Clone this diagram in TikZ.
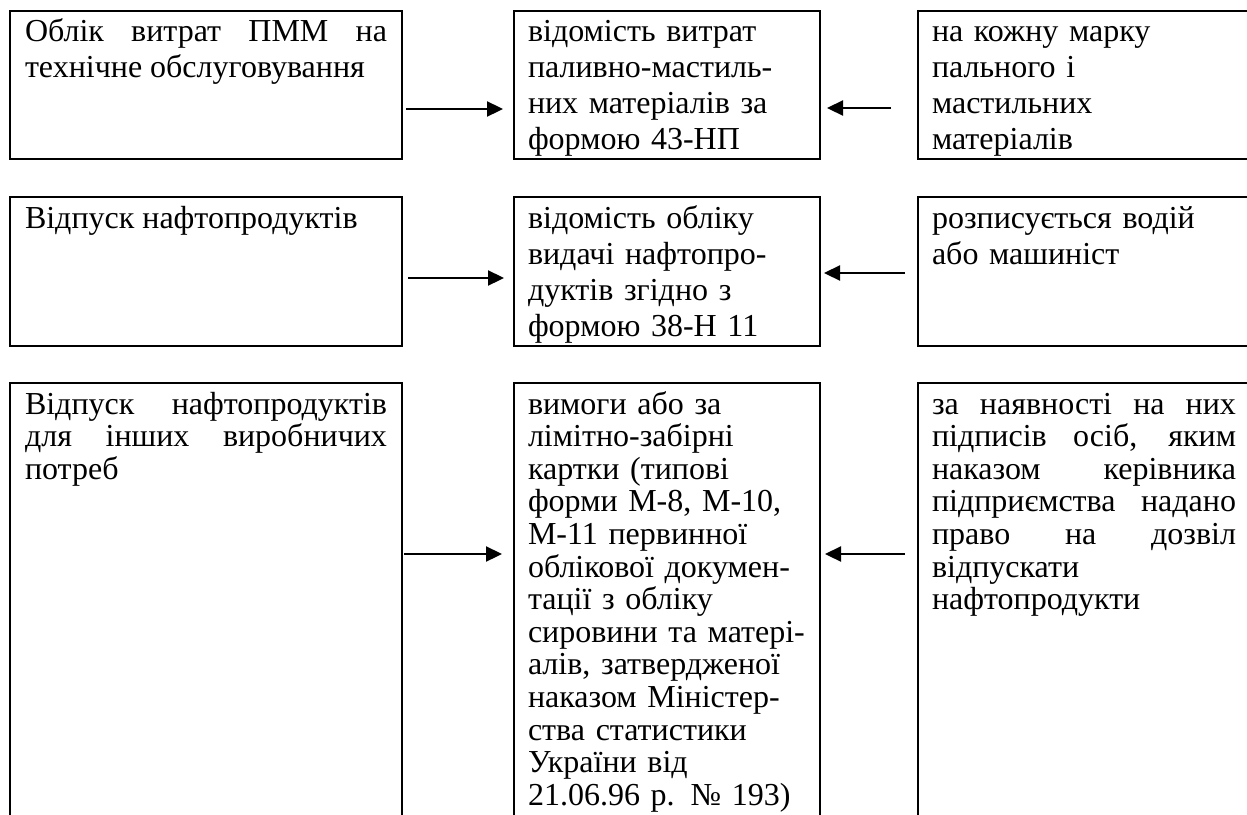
\documentclass[tikz,border=0pt]{standalone}
\usepackage{fontspec}
\setmainfont{Liberation Serif}
\usetikzlibrary{arrows.meta}
\hyphenpenalty=10000
\exhyphenpenalty=10000

\tikzset{
box/.style = {draw, line width=2.2pt, anchor=north west, outer sep=0pt, inner xsep=15pt, inner ysep=0pt},
lbox/.style = {box, text width=362pt, align=justify},
mbox/.style = {box, inner xsep=14pt, text width=278pt, align=left},
rbox/.style = {box, inner xsep=14pt, text width=304pt, align=left},
top/.style = {font=\fontsize{32}{36}\selectfont, text height=30pt, text depth=118pt},
mid/.style = {font=\fontsize{32}{36}\selectfont, text height=31pt, text depth=118pt},
low/.style = {font=\fontsize{32}{32.6}\selectfont, text height=31pt, text depth=500pt},
arr/.style = {line width=2.3pt, -{Triangle[length=16pt, width=15pt]}}
}

\begin{document}
\begin{tikzpicture}[x=1pt, y=1pt]
\useasboundingbox (0,0) rectangle (1247,-814);
\clip (0,0) rectangle (1247,-814);
\node[lbox, top] (ob) at (10,-11) {Облік витрат ПММ на\linebreak технічне обслуговування};
\node[mbox, top] (ob2) at (514,-11) {відомість витрат\\ паливно-мастиль-\\ них матеріалів за\\ формою 43-НП};
\node[rbox, top] (ob3) at (918,-11) {на кожну марку\\ пального і\\ мастильних\\ матеріалів};
\node[lbox, mid] (vid) at (10,-197) {Відпуск нафтопродуктів};
\node[mbox, mid] (vid2) at (514,-197) {відомість обліку\\ видачі нафтопро-\\ дуктів згідно з\\ формою 38-Н 11};
\node[rbox, mid] (vid3) at (918,-197) {розписується водій\\ або машиніст};
\node[lbox, low] (potr) at (10,-383) {Відпуск нафтопродуктів\linebreak для інших виробничих\linebreak потреб};
\node[mbox, low] (potr2) at (514,-383) {вимоги або за\\ лімітно-забірні\\ картки (типові\\ форми М-8, М-10,\\ М-11 первинної\\ облікової докумен-\\ тації з обліку\\ сировини та матері-\\ алів, затвердженої\\ наказом Міністер-\\ ства статистики\\ України від\\ 21.06.96 р. № 193)};
\node[rbox, low, align=justify] (potr3) at (918,-383) {за наявності на них\linebreak підписів осіб, яким\linebreak наказом керівника\linebreak підприємства надано\linebreak право на дозвіл\linebreak відпускати\\ нафтопродукти};
\draw[arr, shorten <=4pt, shorten >=11pt] (ob.east |- 0,-109) -- (ob2.west |- 0,-109);
\draw[arr, shorten <=27pt, shorten >=7pt] (ob3.west |- 0,-108) -- (ob2.east |- 0,-108);
\draw[arr, shorten <=6pt, shorten >=10pt] (vid.east |- 0,-278) -- (vid2.west |- 0,-278);
\draw[arr, shorten <=13pt, shorten >=4pt] (vid3.west |- 0,-273) -- (vid2.east |- 0,-273);
\draw[arr, shorten <=2pt, shorten >=12pt] (potr.east |- 0,-554) -- (potr2.west |- 0,-554);
\draw[arr, shorten <=13pt, shorten >=5pt] (potr3.west |- 0,-554) -- (potr2.east |- 0,-554);
\end{tikzpicture}
\end{document}
